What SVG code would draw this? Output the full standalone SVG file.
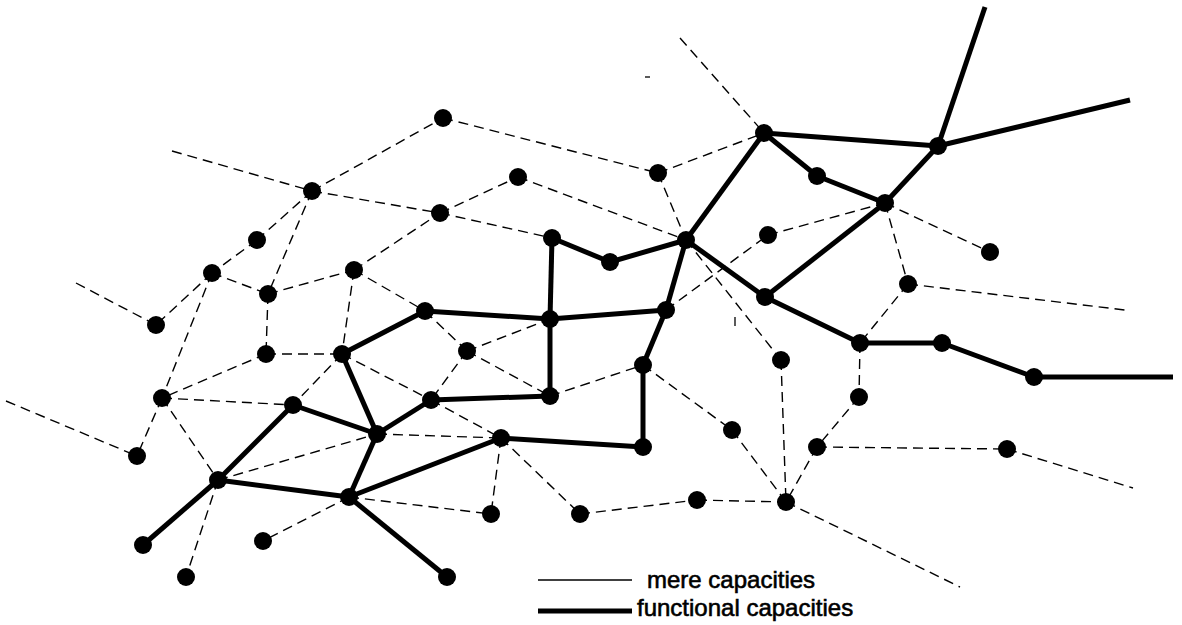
<svg xmlns="http://www.w3.org/2000/svg" width="1182" height="625" viewBox="0 0 1182 625">
<style>
.bg{fill:#fff}
.d{stroke:#000;stroke-width:1.4;stroke-dasharray:10 6;fill:none}
.t{stroke:#000;stroke-width:5;fill:none}
.s{stroke:#000;stroke-width:1.3;fill:none}
.n{fill:#000}
.lbl{font-family:"Liberation Sans",Arial,sans-serif;font-size:24px;fill:#000;stroke:#000;stroke-width:0.6}
</style>
<rect class="bg" x="0" y="0" width="1182" height="625"/>
<g id="connectors">
<line class="d" x1="172" y1="151" x2="312" y2="191"/>
<line class="d" x1="312" y1="191" x2="443" y2="118"/>
<line class="d" x1="443" y1="118" x2="658" y2="173"/>
<line class="d" x1="658" y1="173" x2="764" y2="133"/>
<line class="d" x1="680" y1="38" x2="764" y2="133"/>
<line class="d" x1="312" y1="191" x2="440" y2="213"/>
<line class="d" x1="440" y1="213" x2="518" y2="177"/>
<line class="d" x1="518" y1="177" x2="686" y2="240"/>
<line class="d" x1="658" y1="173" x2="686" y2="240"/>
<line class="d" x1="440" y1="213" x2="552" y2="238"/>
<line class="d" x1="312" y1="191" x2="257" y2="240"/>
<line class="d" x1="257" y1="240" x2="212" y2="273"/>
<line class="d" x1="312" y1="191" x2="268" y2="294"/>
<line class="d" x1="212" y1="273" x2="268" y2="294"/>
<line class="d" x1="268" y1="294" x2="354" y2="270"/>
<line class="d" x1="354" y1="270" x2="440" y2="213"/>
<line class="d" x1="354" y1="270" x2="425" y2="311"/>
<line class="d" x1="354" y1="270" x2="342" y2="354"/>
<line class="d" x1="212" y1="273" x2="156" y2="325"/>
<line class="d" x1="76" y1="283" x2="156" y2="325"/>
<line class="d" x1="212" y1="273" x2="162" y2="398"/>
<line class="d" x1="268" y1="294" x2="266" y2="354"/>
<line class="d" x1="266" y1="354" x2="342" y2="354"/>
<line class="d" x1="266" y1="354" x2="162" y2="398"/>
<line class="d" x1="162" y1="398" x2="293" y2="405"/>
<line class="d" x1="162" y1="398" x2="137" y2="456"/>
<line class="d" x1="6" y1="401" x2="137" y2="456"/>
<line class="d" x1="162" y1="398" x2="218" y2="480"/>
<line class="d" x1="342" y1="354" x2="293" y2="405"/>
<line class="d" x1="342" y1="354" x2="431" y2="400"/>
<line class="d" x1="425" y1="311" x2="467" y2="351"/>
<line class="d" x1="467" y1="351" x2="550" y2="319"/>
<line class="d" x1="467" y1="351" x2="431" y2="400"/>
<line class="d" x1="467" y1="351" x2="550" y2="396"/>
<line class="d" x1="550" y1="396" x2="643" y2="365"/>
<line class="d" x1="431" y1="400" x2="501" y2="438"/>
<line class="d" x1="377" y1="434" x2="501" y2="438"/>
<line class="d" x1="218" y1="480" x2="377" y2="434"/>
<line class="d" x1="218" y1="480" x2="186" y2="577"/>
<line class="d" x1="349" y1="497" x2="263" y2="541"/>
<line class="d" x1="349" y1="497" x2="491" y2="514"/>
<line class="d" x1="501" y1="438" x2="491" y2="514"/>
<line class="d" x1="501" y1="438" x2="580" y2="514"/>
<line class="d" x1="580" y1="514" x2="697" y2="500"/>
<line class="d" x1="697" y1="500" x2="786" y2="502"/>
<line class="d" x1="643" y1="365" x2="732" y2="430"/>
<line class="d" x1="732" y1="430" x2="786" y2="502"/>
<line class="d" x1="686" y1="240" x2="781" y2="360"/>
<line class="d" x1="781" y1="360" x2="786" y2="502"/>
<line class="d" x1="817" y1="447" x2="786" y2="502"/>
<line class="d" x1="859" y1="397" x2="817" y2="447"/>
<line class="d" x1="860" y1="343" x2="859" y2="397"/>
<line class="d" x1="817" y1="447" x2="1007" y2="449"/>
<line class="d" x1="1007" y1="449" x2="1133" y2="488"/>
<line class="d" x1="786" y1="502" x2="960" y2="587"/>
<line class="d" x1="666" y1="310" x2="768" y2="235"/>
<line class="d" x1="768" y1="235" x2="885" y2="203"/>
<line class="d" x1="885" y1="203" x2="990" y2="252"/>
<line class="d" x1="885" y1="203" x2="908" y2="284"/>
<line class="d" x1="908" y1="284" x2="1125" y2="310"/>
<line class="d" x1="908" y1="284" x2="860" y2="343"/>
<line class="s" x1="735" y1="317" x2="735" y2="326"/>
<line class="s" x1="645" y1="77" x2="650" y2="77"/>
<line class="t" x1="938" y1="146" x2="985" y2="7"/>
<line class="t" x1="938" y1="146" x2="1130" y2="100"/>
<line class="t" x1="764" y1="133" x2="938" y2="146"/>
<line class="t" x1="764" y1="133" x2="817" y2="176"/>
<line class="t" x1="817" y1="176" x2="885" y2="203"/>
<line class="t" x1="885" y1="203" x2="938" y2="146"/>
<line class="t" x1="764" y1="133" x2="686" y2="240"/>
<line class="t" x1="885" y1="203" x2="765" y2="297"/>
<line class="t" x1="686" y1="240" x2="765" y2="297"/>
<line class="t" x1="765" y1="297" x2="860" y2="343"/>
<line class="t" x1="860" y1="343" x2="942" y2="343"/>
<line class="t" x1="942" y1="343" x2="1034" y2="377"/>
<line class="t" x1="1034" y1="377" x2="1173" y2="377"/>
<line class="t" x1="552" y1="238" x2="610" y2="262"/>
<line class="t" x1="610" y1="262" x2="686" y2="240"/>
<line class="t" x1="552" y1="238" x2="550" y2="319"/>
<line class="t" x1="425" y1="311" x2="550" y2="319"/>
<line class="t" x1="550" y1="319" x2="666" y2="310"/>
<line class="t" x1="686" y1="240" x2="666" y2="310"/>
<line class="t" x1="666" y1="310" x2="643" y2="365"/>
<line class="t" x1="643" y1="365" x2="643" y2="447"/>
<line class="t" x1="501" y1="438" x2="643" y2="447"/>
<line class="t" x1="550" y1="319" x2="550" y2="396"/>
<line class="t" x1="431" y1="400" x2="550" y2="396"/>
<line class="t" x1="425" y1="311" x2="342" y2="354"/>
<line class="t" x1="342" y1="354" x2="377" y2="434"/>
<line class="t" x1="431" y1="400" x2="377" y2="434"/>
<line class="t" x1="377" y1="434" x2="349" y2="497"/>
<line class="t" x1="349" y1="497" x2="501" y2="438"/>
<line class="t" x1="293" y1="405" x2="377" y2="434"/>
<line class="t" x1="293" y1="405" x2="218" y2="480"/>
<line class="t" x1="218" y1="480" x2="349" y2="497"/>
<line class="t" x1="218" y1="480" x2="143" y2="545"/>
<line class="t" x1="349" y1="497" x2="447" y2="577"/>
</g>
<g id="n-A"><circle class="n" cx="443" cy="118" r="9"/></g>
<g id="n-B"><circle class="n" cx="312" cy="191" r="9"/></g>
<g id="n-C"><circle class="n" cx="518" cy="177" r="9"/></g>
<g id="n-D"><circle class="n" cx="658" cy="173" r="9"/></g>
<g id="n-E"><circle class="n" cx="764" cy="133" r="9"/></g>
<g id="n-F"><circle class="n" cx="938" cy="146" r="9"/></g>
<g id="n-G"><circle class="n" cx="817" cy="176" r="9"/></g>
<g id="n-H"><circle class="n" cx="885" cy="203" r="9"/></g>
<g id="n-I"><circle class="n" cx="440" cy="213" r="9"/></g>
<g id="n-J"><circle class="n" cx="257" cy="240" r="9"/></g>
<g id="n-K"><circle class="n" cx="212" cy="273" r="9"/></g>
<g id="n-L"><circle class="n" cx="354" cy="270" r="9"/></g>
<g id="n-M"><circle class="n" cx="268" cy="294" r="9"/></g>
<g id="n-N"><circle class="n" cx="156" cy="325" r="9"/></g>
<g id="n-O"><circle class="n" cx="552" cy="238" r="9"/></g>
<g id="n-P"><circle class="n" cx="610" cy="262" r="9"/></g>
<g id="n-Q"><circle class="n" cx="686" cy="240" r="9"/></g>
<g id="n-R"><circle class="n" cx="768" cy="235" r="9"/></g>
<g id="n-S"><circle class="n" cx="990" cy="252" r="9"/></g>
<g id="n-T"><circle class="n" cx="908" cy="284" r="9"/></g>
<g id="n-U"><circle class="n" cx="765" cy="297" r="9"/></g>
<g id="n-V"><circle class="n" cx="425" cy="311" r="9"/></g>
<g id="n-W"><circle class="n" cx="550" cy="319" r="9"/></g>
<g id="n-X"><circle class="n" cx="666" cy="310" r="9"/></g>
<g id="n-Y"><circle class="n" cx="266" cy="354" r="9"/></g>
<g id="n-Z"><circle class="n" cx="342" cy="354" r="9"/></g>
<g id="n-AA"><circle class="n" cx="467" cy="351" r="9"/></g>
<g id="n-AB"><circle class="n" cx="781" cy="360" r="9"/></g>
<g id="n-AC"><circle class="n" cx="860" cy="343" r="9"/></g>
<g id="n-AD"><circle class="n" cx="942" cy="343" r="9"/></g>
<g id="n-AE"><circle class="n" cx="1034" cy="377" r="9"/></g>
<g id="n-AF"><circle class="n" cx="643" cy="365" r="9"/></g>
<g id="n-AG"><circle class="n" cx="162" cy="398" r="9"/></g>
<g id="n-AH"><circle class="n" cx="293" cy="405" r="9"/></g>
<g id="n-AI"><circle class="n" cx="431" cy="400" r="9"/></g>
<g id="n-AJ"><circle class="n" cx="550" cy="396" r="9"/></g>
<g id="n-AK"><circle class="n" cx="859" cy="397" r="9"/></g>
<g id="n-AL"><circle class="n" cx="137" cy="456" r="9"/></g>
<g id="n-AM"><circle class="n" cx="377" cy="434" r="9"/></g>
<g id="n-AN"><circle class="n" cx="501" cy="438" r="9"/></g>
<g id="n-AO"><circle class="n" cx="643" cy="447" r="9"/></g>
<g id="n-AP"><circle class="n" cx="732" cy="430" r="9"/></g>
<g id="n-AQ"><circle class="n" cx="817" cy="447" r="9"/></g>
<g id="n-AR"><circle class="n" cx="1007" cy="449" r="9"/></g>
<g id="n-AS"><circle class="n" cx="218" cy="480" r="9"/></g>
<g id="n-AT"><circle class="n" cx="349" cy="497" r="9"/></g>
<g id="n-AU"><circle class="n" cx="697" cy="500" r="9"/></g>
<g id="n-AV"><circle class="n" cx="786" cy="502" r="9"/></g>
<g id="n-AW"><circle class="n" cx="491" cy="514" r="9"/></g>
<g id="n-AX"><circle class="n" cx="580" cy="514" r="9"/></g>
<g id="n-AY"><circle class="n" cx="143" cy="545" r="9"/></g>
<g id="n-AZ"><circle class="n" cx="263" cy="541" r="9"/></g>
<g id="n-BA"><circle class="n" cx="186" cy="577" r="9"/></g>
<g id="n-BB"><circle class="n" cx="447" cy="577" r="9"/></g>
<g id="legend">
<line class="s" x1="538" y1="580" x2="632" y2="580"/>
<line class="t" x1="538" y1="611" x2="632" y2="611"/>
<text class="lbl" x="647" y="588">mere capacities</text>
<text class="lbl" x="637" y="616">functional capacities</text>
</g>
</svg>
